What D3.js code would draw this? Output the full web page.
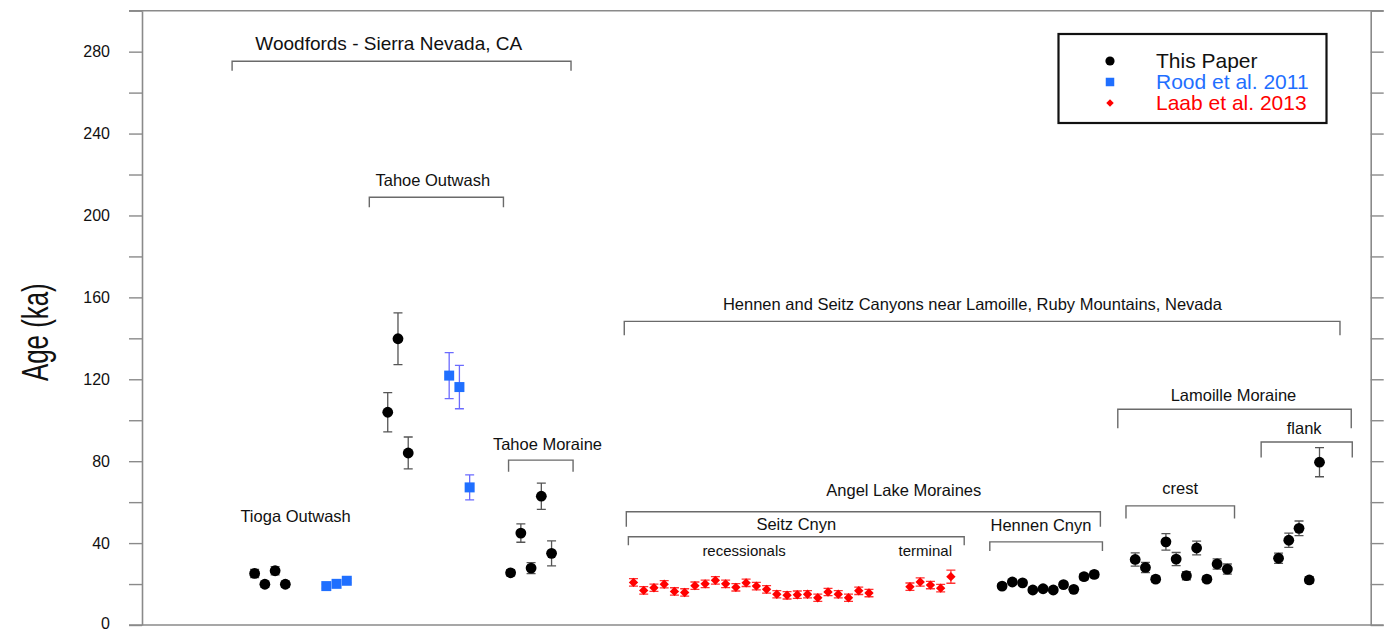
<!DOCTYPE html>
<html>
<head>
<meta charset="utf-8">
<script src="https://cdn.jsdelivr.net/npm/d3@7"></script>
<style>
  body { margin: 0; background: #fff; }
  svg { display: block; font-family: "Liberation Sans", Arial, Helvetica, sans-serif; }
</style>
</head>
<body>
<svg id="chart" width="1390" height="632"></svg>
<script>
// sample slot along the transect (no x labels in the original), age in ka, +/- error in ka
const thisPaperPos = [11, 12, 13, 14, 24, 25, 26, 36, 37, 38, 39, 40,
  84, 85, 86, 87, 88, 89, 90, 91, 92, 93,
  97, 98, 99, 100, 101, 102, 103, 104, 105, 106,
  111, 112, 113, 114, 115];
const thisPaperAge = [25.2, 19.9, 26.5, 19.9, 103.9, 139.8, 84.0, 25.5, 44.9, 27.8, 62.9, 35.0,
  19.0, 21.0, 20.6, 17.1, 17.7, 17.1, 19.7, 17.4, 23.6, 24.7,
  32.0, 28.1, 22.4, 40.6, 32.2, 24.1, 37.6, 22.4, 29.8, 27.3,
  32.6, 41.4, 47.2, 22.0, 79.5];
const thisPaperErr = [2.0, 1.5, 2.0, 1.5, 9.6, 12.6, 7.8, 1.5, 4.5, 2.7, 6.4, 6.1,
  1.2, 1.2, 1.2, 1.2, 1.2, 1.2, 1.2, 1.2, 1.5, 1.5,
  3.2, 2.5, 1.5, 4.0, 3.2, 2.0, 3.4, 1.5, 2.5, 2.5,
  2.5, 3.5, 3.6, 1.5, 7.1];

const roodPos = [18, 19, 20, 30, 31, 32];
const roodAge = [19.0, 20.1, 21.6, 121.8, 116.2, 67.2];
const roodErr = [1.0, 1.0, 1.0, 11.2, 10.6, 6.1];

const laabPos = [48, 49, 50, 51, 52, 53, 54, 55, 56, 57, 58, 59, 60, 61, 62, 63, 64, 65, 66, 67, 68, 69, 70, 71,
  75, 76, 77, 78, 79];
const laabAge = [20.8, 16.9, 18.2, 19.9, 16.4, 15.9, 19.2, 20.1, 21.8, 20.1, 18.4, 20.6, 19.0, 17.4,
  15.0, 14.5, 14.8, 15.0, 13.3, 16.1, 15.0, 13.3, 16.7, 15.6,
  18.7, 21.0, 19.5, 18.0, 23.6];
const laabErr = [1.8, 1.8, 1.8, 1.8, 1.8, 1.8, 1.8, 1.8, 1.8, 1.8, 1.8, 1.8, 1.8, 1.8,
  1.8, 1.8, 1.8, 1.8, 1.8, 1.8, 1.8, 1.8, 1.8, 1.8,
  1.8, 2.0, 1.8, 1.8, 3.2];

const ageTicks = [0, 20, 40, 60, 80, 100, 120, 140, 160, 180, 200, 220, 240, 260, 280, 300];
const ageLabels = [0, 40, 80, 120, 160, 200, 240, 280];

const legendNames = ['This Paper', 'Rood et al. 2011', 'Laab et al. 2013'];

// group annotations: label centre (slot, age) and brackets in slot / age units
const groupLabels = [
  { text: 'Woodfords - Sierra Nevada, CA', pos: 24.1, age: 281.0, kind: 'big' },
  { text: 'Tahoe Outwash', pos: 28.4, age: 214.6, kind: 'mid' },
  { text: 'Tioga Outwash', pos: 15.0, age: 50.4, kind: 'mid' },
  { text: 'Tahoe Moraine', pos: 39.6, age: 85.4, kind: 'mid' },
  { text: 'Hennen and Seitz Canyons near Lamoille, Ruby Mountains, Nevada', pos: 81.1, age: 153.7, kind: 'mid' },
  { text: 'Lamoille Moraine', pos: 106.6, age: 109.3, kind: 'mid' },
  { text: 'flank', pos: 113.5, age: 93.5, kind: 'mid' },
  { text: 'Angel Lake Moraines', pos: 74.4, age: 62.9, kind: 'mid' },
  { text: 'crest', pos: 101.4, age: 63.9, kind: 'mid' },
  { text: 'Seitz Cnyn', pos: 63.9, age: 46.3, kind: 'mid' },
  { text: 'Hennen Cnyn', pos: 87.8, age: 46.0, kind: 'mid' },
  { text: 'recessionals', pos: 58.8, age: 33.7, kind: 'small' },
  { text: 'terminal', pos: 76.5, age: 33.7, kind: 'small' }
];
const brackets = [
  { from: 8.8, to: 41.9, top: 275.3, foot: 270.7 },
  { from: 22.2, to: 35.3, top: 208.9, foot: 204.0 },
  { from: 35.8, to: 42.1, top: 80.5, foot: 74.8 },
  { from: 47.1, to: 117.0, top: 148.3, foot: 141.5 },
  { from: 95.3, to: 118.1, top: 105.4, foot: 96.1 },
  { from: 109.3, to: 118.2, top: 89.4, foot: 81.8 },
  { from: 47.3, to: 93.6, top: 55.3, foot: 48.0 },
  { from: 96.1, to: 106.7, top: 58.2, foot: 52.0 },
  { from: 47.5, to: 80.3, top: 43.1, foot: 39.0 },
  { from: 82.8, to: 93.8, top: 40.6, foot: 36.1 }
];

const fontSizes = { big: 19, mid: 16.5, small: 15 };
const black = '#000';
const blue = '#1f6fff';
const red = '#ff0000';

const svg = d3.select('#chart');
const x = d3.scaleLinear().domain([0, 120]).range([142, 1370.7]);
const y = d3.scaleLinear().domain([0, 300]).range([625, 10.7]);
const axisColor = '#8a8a8a';

// axes
const left = svg.append('g')
  .attr('transform', `translate(${x(0)},0)`)
  .call(d3.axisLeft(y).tickValues(ageTicks).tickSize(13).tickSizeOuter(0).tickPadding(19)
    .tickFormat(d => ageLabels.includes(d) ? d : ''));
const right = svg.append('g')
  .attr('transform', `translate(${x(120)},0)`)
  .call(d3.axisRight(y).tickValues(ageTicks).tickSize(13).tickSizeOuter(0).tickFormat(''));
for (const g of [left, right]) {
  g.select('.domain').attr('stroke', axisColor).attr('stroke-width', 1.6);
  g.selectAll('.tick line').attr('stroke', axisColor).attr('stroke-width', 1.4);
  g.selectAll('.tick text').attr('font-size', 16).attr('fill', '#111')
    .attr('font-family', '"Liberation Sans", Arial, sans-serif');
}
left.selectAll('.tick text').filter(d => d === 0).attr('dy', '0.2em');
for (const a of [0, 300]) {
  svg.append('line')
    .attr('x1', x(0) - 13).attr('x2', x(120) + 13)
    .attr('y1', y(a)).attr('y2', y(a))
    .attr('stroke', axisColor).attr('stroke-width', 1.6);
}

svg.append('text')
  .attr('transform', `translate(35,${y(143)}) rotate(-90) scale(0.7,1)`)
  .attr('text-anchor', 'middle')
  .attr('dy', '0.35em')
  .attr('font-size', 37)
  .attr('fill', '#111')
  .text('Age (ka)');

// brackets and labels
svg.append('g')
  .attr('fill', 'none')
  .attr('stroke', '#6a6a6a')
  .attr('stroke-width', 1.4)
  .selectAll('path')
  .data(brackets)
  .join('path')
  .attr('d', b => `M${x(b.from)},${y(b.foot)}V${y(b.top)}H${x(b.to)}V${y(b.foot)}`);

svg.append('g')
  .selectAll('text')
  .data(groupLabels)
  .join('text')
  .attr('x', d => x(d.pos))
  .attr('y', d => y(d.age))
  .attr('text-anchor', 'middle')
  .attr('font-size', d => fontSizes[d.kind])
  .attr('fill', '#111')
  .text(d => d.text);

// series
const series = [
  { pos: thisPaperPos, age: thisPaperAge, err: thisPaperErr, color: black, bar: '#555', shape: 'circle' },
  { pos: roodPos, age: roodAge, err: roodErr, color: blue, bar: '#6b6bff', shape: 'square' },
  { pos: laabPos, age: laabAge, err: laabErr, color: red, bar: '#ff3333', shape: 'diamond' }
];

const markerPath = {
  circle: d3.symbol(d3.symbolCircle, Math.PI * 5.4 * 5.4),
  square: d3.symbol(d3.symbolSquare, 10 * 10),
  diamond: d3.symbol(d3.symbolDiamond2, 56)
};

for (const s of series) {
  const pts = s.pos.map((p, i) => ({ pos: p, age: s.age[i], err: s.err[i] }));
  const bars = svg.append('g').attr('stroke', s.bar).attr('stroke-width', 1.3).attr('fill', 'none');
  bars.selectAll('path')
    .data(pts)
    .join('path')
    .attr('d', d => {
      const cx = x(d.pos), y0 = y(d.age - d.err), y1 = y(d.age + d.err);
      return `M${cx},${y0}V${y1}M${cx - 4.5},${y0}H${cx + 4.5}M${cx - 4.5},${y1}H${cx + 4.5}`;
    });
  svg.append('g')
    .selectAll('path')
    .data(pts)
    .join('path')
    .attr('transform', d => `translate(${x(d.pos)},${y(d.age)})`)
    .attr('d', markerPath[s.shape]())
    .attr('fill', s.color);
}

// legend
const legend = svg.append('g');
legend.append('rect')
  .attr('x', 1058.5).attr('y', 34).attr('width', 268).attr('height', 89)
  .attr('fill', '#fff').attr('stroke', '#111').attr('stroke-width', 2.2);
const legendMarks = [
  { path: d3.symbol(d3.symbolCircle, Math.PI * 4.6 * 4.6)(), color: black },
  { path: d3.symbol(d3.symbolSquare, 8.5 * 8.5)(), color: blue },
  { path: d3.symbol(d3.symbolDiamond2, 36)(), color: red }
];
legendNames.forEach((name, i) => {
  const cy = 61 + i * 21;
  legend.append('path')
    .attr('transform', `translate(1110,${cy})`)
    .attr('d', legendMarks[i].path)
    .attr('fill', legendMarks[i].color);
  legend.append('text')
    .attr('x', 1156).attr('y', cy + 6.5)
    .attr('font-size', 21)
    .attr('fill', legendMarks[i].color === black ? '#111' : legendMarks[i].color)
    .text(name);
});
</script>
</body>
</html>
